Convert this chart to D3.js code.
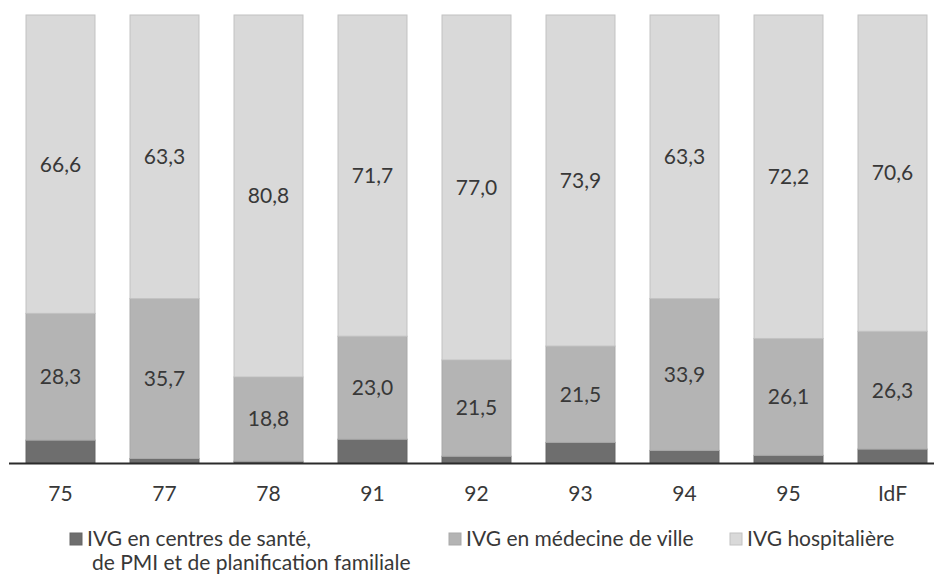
<html>

<head>
  <meta charset="utf-8">
  <title>IVG par département</title>
  <style>
    body {
      margin: 0;
      background: #fff;
    }

    text {
      font-family: Lato, "Open Sans", sans-serif;
      fill: #383838;
    }
  </style>
</head>

<body>
  <script src="https://cdn.jsdelivr.net/npm/d3@7"></script>
  <script>
    // départements + Ile-de-France
    var categories = ["75", "77", "78", "91", "92", "93", "94", "95", "IdF"]
    // parts en % (centres de santé = reste jusqu'a 100)
    var centres = [5.1, 1.0, 0.4, 5.3, 1.5, 4.6, 2.8, 1.7, 3.1]
    var medecine = [28.3, 35.7, 18.8, 23.0, 21.5, 21.5, 33.9, 26.1, 26.3]
    var hospital = [66.6, 63.3, 80.8, 71.7, 77.0, 73.9, 63.3, 72.2, 70.6]
    var seriesNames = ["IVG en centres de santé,", "IVG en médecine de ville", "IVG hospitalière"]

    var width = 934, height = 575
    var svg = d3.select("body").append("svg")
      .attr("width", width)
      .attr("height", height)

    var x = d3.scaleBand()
      .domain(categories)
      .range([8.5, 944.5])
      .paddingInner(0.327)
      .paddingOuter(0.1635)

    var y = d3.scaleLinear()
      .domain([0, 100])
      .range([463, 15])

    var fills = ["#6e6e6e", "#b4b4b4", "#d9d9d9"]
    var strokes = ["#666", "#a9a9a9", "#c2c2c2"]

    var rows = categories.map(function (c, i) {
      return { cat: c, centres: centres[i], medecine: medecine[i], hospital: hospital[i] }
    })
    var keys = ["centres", "medecine", "hospital"]
    var stack = d3.stack().keys(keys)(rows)

    var layers = svg.selectAll("g.layer")
      .data(stack)
      .enter()
      .append("g")
      .attr("class", "layer")

    layers.selectAll("rect")
      .data(function (d, k) { return d.map(function (p) { return { p: p, k: k } }) })
      .enter()
      .append("rect")
      .attr("x", d => x(d.p.data.cat) + 0.5)
      .attr("width", x.bandwidth() - 1)
      .attr("y", d => y(d.p[1]))
      .attr("height", d => y(d.p[0]) - y(d.p[1]))
      .attr("fill", d => fills[d.k])
      .attr("stroke", d => strokes[d.k])
      .attr("stroke-width", 1)

    // étiquettes (pas pour les centres, trop petits)
    var fmt = v => d3.format(".1f")(v).replace(".", ",")
    layers.filter((d, k) => k > 0)
      .selectAll("text")
      .data(d => d)
      .enter()
      .append("text")
      .attr("x", d => x(d.data.cat) + x.bandwidth() / 2)
      .attr("y", d => (y(d[0]) + y(d[1])) / 2)
      .attr("dy", "0.35em")
      .attr("text-anchor", "middle")
      .attr("font-size", "21px")
      .text(d => fmt(d[1] - d[0]))

    // axe horizontal
    svg.append("line")
      .attr("x1", 9).attr("x2", width)
      .attr("y1", 463.5).attr("y2", 463.5)
      .attr("stroke", "#2b2b2b")
      .attr("stroke-width", 2)

    svg.selectAll("text.cat")
      .data(categories)
      .enter()
      .append("text")
      .attr("class", "cat")
      .attr("x", d => x(d) + x.bandwidth() / 2)
      .attr("y", 494)
      .attr("dy", "0.35em")
      .attr("text-anchor", "middle")
      .attr("font-size", "21px")
      .text(d => d)

    // légende
    var legX = [70, 449, 730]
    var leg = svg.selectAll("g.leg")
      .data(seriesNames)
      .enter()
      .append("g")
      .attr("class", "leg")
      .attr("transform", (d, i) => `translate(${legX[i]},533)`)
    leg.append("rect")
      .attr("width", 12).attr("height", 12)
      .attr("fill", (d, i) => fills[i])
      .attr("stroke", (d, i) => strokes[i])
    leg.append("text")
      .attr("x", 17)
      .attr("y", 6)
      .attr("dy", "0.35em")
      .attr("font-size", "21px")
      .text(d => d)
    svg.append("text")
      .attr("x", 92)
      .attr("y", 563)
      .attr("dy", "0.35em")
      .attr("font-size", "21px")
      .text("de PMI et de planification familiale")
  </script>
</body>

</html>
